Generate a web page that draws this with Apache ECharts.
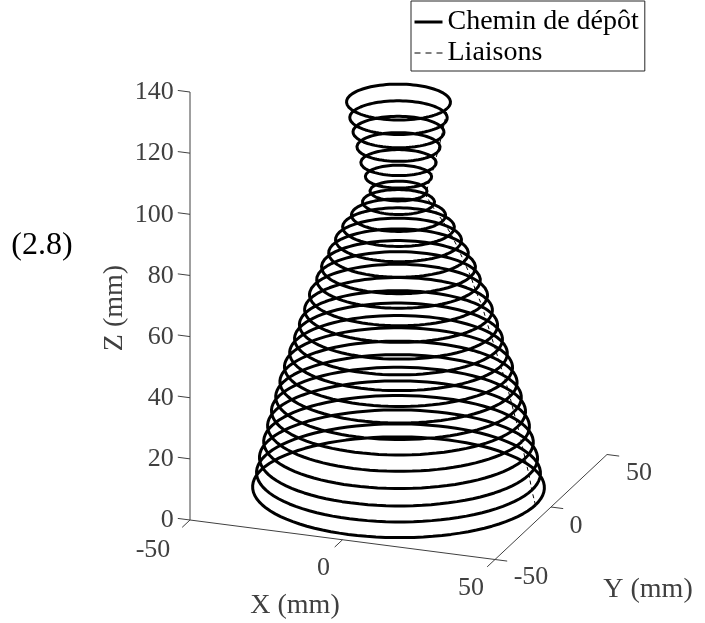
<!DOCTYPE html>
<html>
<head>
<meta charset="utf-8">
<title>Chemin de dépôt</title>
<style>
html, body { margin: 0; padding: 0; background: #fff; }
#container { width: 705px; height: 623px; }
</style>
<script src="https://cdn.jsdelivr.net/npm/echarts@6/dist/echarts.min.js"></script>
</head>
<body>
<div id="container"></div>
<script>
// layers, both in mm
var layerZ = [0, 4.7, 9.6, 14.8, 20, 24.9, 29.5, 34.4, 39.3, 43.9, 48.5, 53.1, 58, 62.9,
    67.8, 72, 76.6, 80.9, 85.1, 89, 93.3, 96.9, 101.6, 106.2, 111.3, 116.2, 120.9, 126];
var layerR = [44.9, 43.7, 42.8, 41.5, 40.3, 39.1, 37.8, 36.5, 35.1, 33.5, 32, 30.5, 28.9, 27.4,
    25.2, 23.7, 21.5, 19.4, 17.2, 14.5, 11.1, 8.8, 10.2, 11.6, 12.8, 14, 15, 16];

var xTicks = [-50, 0, 50];
var yTicks = [-50, 0, 50];
var zTicks = [0, 20, 40, 60, 80, 100, 120, 140];

var seriesNames = ['Chemin de dépôt', 'Liaisons'];
var axisNames = ['X (mm)', 'Y (mm)', 'Z (mm)'];
var equationLabel = '(2.8)';

var axisColor = '#404040';
var textFont = 'Liberation Serif';

// view of the 3d box: screen px per mm along each axis, origin is (0,0,0)
function project(x, y, z) {
    return [398.5 + 3.05 * x + 1.12 * y, 487.25 + 0.395 * x - 1.05 * y - 3.057 * z];
}

function buildRings() {
    var pts = [];
    for (var i = 0; i < layerZ.length; i++) {
        for (var a = 0; a <= 96; a++) {
            var t = a / 96 * 2 * Math.PI;
            pts.push(project(layerR[i] * Math.cos(t), layerR[i] * Math.sin(t), layerZ[i]));
        }
        pts.push(['-', '-']);
    }
    return pts;
}

function buildLinks() {
    var pts = [];
    for (var i = 0; i < layerZ.length; i++) {
        pts.push(project(layerR[i], 0, layerZ[i]));
    }
    return pts;
}

function buildBox() {
    var pts = [project(-50, -50, 140), project(-50, -50, 0), project(50, -50, 0), project(50, 50, 0)];
    pts.push(['-', '-']);
    zTicks.forEach(function (z) {
        pts.push(project(-50, -50, z), project(-54, -50, z), ['-', '-']);
    });
    xTicks.forEach(function (x) {
        pts.push(project(x, -50, 0), project(x, -57, 0), ['-', '-']);
    });
    yTicks.forEach(function (y) {
        pts.push(project(50, y, 0), project(54, y, 0), ['-', '-']);
    });
    return pts;
}

function textSeries(items, fontSize, color, rotate) {
    return {
        type: 'scatter',
        symbolSize: 0,
        silent: true,
        z: 5,
        data: items,
        itemStyle: { opacity: 1 },
        label: {
            show: true,
            position: 'inside',
            rotate: rotate || 0,
            fontFamily: textFont,
            fontSize: fontSize,
            color: color,
            formatter: function (p) { return p.data.text; }
        }
    };
}

function tickItem(text, pos, dx, dy) {
    return { value: [pos[0] + dx, pos[1] + dy], text: text };
}

var tickItems = [];
zTicks.forEach(function (z) {
    tickItems.push(tickItem(String(z), project(-50, -50, z), -4 - String(z).length * 6.5 - 12.2, 0.5));
});
var xOffsets = [[-37, 30], [-19, 28], [-24, 29]];
xTicks.forEach(function (x, i) {
    tickItems.push(tickItem(String(x), project(x, -50, 0), xOffsets[i][0], xOffsets[i][1]));
});
var yOffsets = [[36, 18], [25, 19], [32, 19]];
yTicks.forEach(function (y, i) {
    tickItems.push(tickItem(String(y), project(50, y, 0), yOffsets[i][0], yOffsets[i][1]));
});

var myChart = echarts.init(document.getElementById('container'));

var option = {
    animation: false,
    grid: { left: 0, right: 0, top: 0, bottom: 0 },
    xAxis: { type: 'value', min: 0, max: 705, show: false },
    yAxis: { type: 'value', min: 0, max: 623, inverse: true, show: false },
    legend: {
        data: [
            { name: seriesNames[0], lineStyle: { width: 3 } },
            { name: seriesNames[1], lineStyle: { width: 1, type: [6, 5] } }
        ],
        orient: 'vertical',
        left: 411,
        top: 1,
        padding: [7, 6, 4, 2],
        itemGap: 3,
        itemWidth: 28,
        itemHeight: 28,
        borderColor: '#262626',
        borderWidth: 1,
        selectedMode: false,
        itemStyle: { opacity: 0 },
        textStyle: { fontFamily: textFont, fontSize: 28, color: '#000' }
    },
    series: [
        {
            name: seriesNames[1],
            type: 'line',
            symbol: 'none',
            silent: true,
            data: buildLinks(),
            itemStyle: { color: '#000' },
            lineStyle: { color: '#000', width: 1, type: [4, 3] }
        },
        {
            name: seriesNames[0],
            type: 'line',
            symbol: 'none',
            silent: true,
            z: 3,
            connectNulls: false,
            data: buildRings(),
            itemStyle: { color: '#000' },
            lineStyle: { color: '#000', width: 3 }
        },
        {
            type: 'line',
            symbol: 'none',
            silent: true,
            data: buildBox(),
            lineStyle: { color: axisColor, width: 1 }
        },
        textSeries(tickItems, 26, axisColor),
        textSeries([
            { value: [295, 606], text: axisNames[0] },
            { value: [648, 590], text: axisNames[1] }
        ], 28, axisColor),
        textSeries([{ value: [115, 308], text: axisNames[2] }], 28, axisColor, 90),
        textSeries([{ value: [42, 246], text: equationLabel }], 32, '#000')
    ]
};
myChart.setOption(option);
</script>
</body>
</html>
